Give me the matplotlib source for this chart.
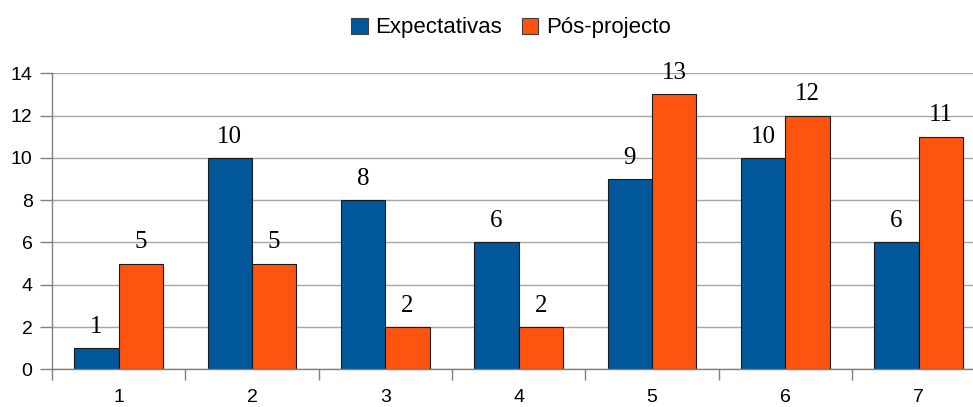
import matplotlib.pyplot as plt
import numpy as np

categories = ["1", "2", "3", "4", "5", "6", "7"]
expectativas = [1, 10, 8, 6, 9, 10, 6]
pos_projecto = [5, 5, 2, 2, 13, 12, 11]
series_names = ["Expectativas", "Pós-projecto"]
yticks = [0, 2, 4, 6, 8, 10, 12, 14]

blue = "#00579a"
orange = "#ff5410"

fig = plt.figure(figsize=(9.73, 4.07), dpi=100)
W, H = 973, 407
# the last category runs past the right edge of the image
ax = fig.add_axes([52 / W, (H - 369.3) / H, 933.3 / W, 296 / H])

x = np.arange(len(categories))
w = 0.333
b1 = ax.bar(x - w / 2, expectativas, w, color=blue, edgecolor="#1a1a1a", linewidth=0.8, zorder=3,
            label=series_names[0])
b2 = ax.bar(x + w / 2, pos_projecto, w, color=orange, edgecolor="#1a1a1a", linewidth=0.8, zorder=3,
            label=series_names[1])

for bars, vals in ((b1, expectativas), (b2, pos_projecto)):
    for r, v in zip(bars, vals):
        ax.annotate(str(v), (r.get_x() + r.get_width() / 2, v), xytext=(0, 11), textcoords="offset points",
                    ha="center", va="baseline", fontsize=18, family="Liberation Serif", zorder=4)

ax.set_xlim(-0.5, len(categories) - 0.5)
ax.set_ylim(0, 14)
ax.set_yticks(yticks)
ax.set_yticklabels([str(t) for t in yticks])
ax.yaxis.grid(True, color="#a6a6a6", linewidth=1, zorder=0)

ax.set_xticks(np.arange(-0.5, len(categories), 1.0))
ax.set_xticklabels([])
ax.set_xticks(x, minor=True)
ax.set_xticklabels(categories, minor=True)
ax.tick_params(axis="x", which="major", length=8, width=1, color="#808080", direction="out")
ax.tick_params(axis="x", which="minor", length=0, pad=14)
ax.tick_params(axis="y", length=9, width=1, color="#808080", pad=5)
for lab in ax.get_xticklabels(minor=True) + ax.get_yticklabels():
    lab.set_family("Liberation Sans")
    lab.set_fontsize(14)

for s in ["top", "right"]:
    ax.spines[s].set_visible(False)
for s in ["left", "bottom"]:
    ax.spines[s].set_color("#808080")
    ax.spines[s].set_linewidth(1)
    ax.spines[s].set_zorder(5)

leg = fig.legend(handles=[b1, b2], loc="center", bbox_to_anchor=(0.525, 1 - 28 / H), ncol=2, frameon=False,
                 prop={"family": "Liberation Sans", "size": 16}, handlelength=0.75, handleheight=0.75,
                 handletextpad=0.33, columnspacing=0.9)
for p in leg.get_patches():
    p.set_edgecolor("#404040")

fig.savefig("out.png", dpi=100)
